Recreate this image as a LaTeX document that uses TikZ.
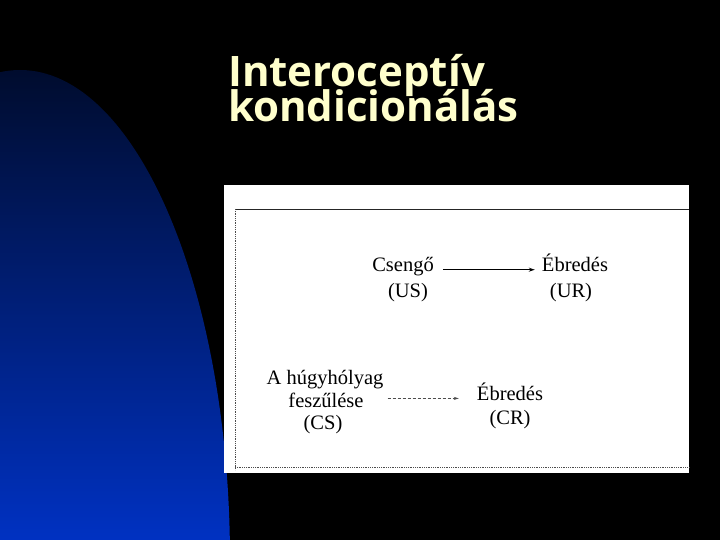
\documentclass[tikz,border=0pt]{standalone}
\usepackage{fontspec}
\setmainfont{Liberation Serif}
\newfontfamily\titlefont{Open Sans}
\usetikzlibrary{arrows.meta}
\definecolor{titlecream}{HTML}{FFFFCC}
\definecolor{navytop}{HTML}{000C2E}
\definecolor{bluebottom}{HTML}{0033C8}
\tikzset{
  titletext/.style={anchor=base west, inner sep=0pt, text=titlecream, font=\titlefont\bfseries\fontsize{42}{35}\selectfont},
  word/.style={anchor=base, inner sep=4pt, font=\fontsize{20.5}{24}\selectfont, text=black},
  solidarrow/.style={-{Stealth[length=6pt,width=4pt]}, line width=1.2pt},
  faintarrow/.style={-{Stealth[length=5pt,width=3pt]}, line width=0.6pt, densely dashed, black!70},
  frameline/.style={line width=0.8pt, black!85},
  dotline/.style={line width=0.8pt, black!70, densely dotted}
}
\begin{document}
\begin{tikzpicture}[x=1pt,y=1pt]
\useasboundingbox (0,0) rectangle (720,540);
\fill[black] (0,0) rectangle (720,540);
% blue quarter ellipse
\begin{scope}
\clip (0,0) rectangle (720,540);
\shade[top color=navytop, bottom color=bluebottom] (-190,-20) arc[start angle=180, end angle=0, x radius=210, y radius=490] -- cycle;
\end{scope}
% title
\node[titletext] (t1) at (228,453) {Interoceptív};
\node[titletext] (t2) at (228,418) {kondicionálás};
% white figure
\fill[white] (224,355) rectangle (689,67);
\draw[frameline] (235,331) -- (689,331);
\draw[dotline] (235,331) -- (235,70);
\draw[dotline] (235,73) -- (689,73);
% diagram nodes
\node[word] (us) at (403,268) {Csengő};
\node[word] (usl) at (408,242) {(US)};
\node[word] (ur) at (575,268) {Ébredés};
\node[word] (url) at (571,242) {(UR)};
\node[word] (cs1) at (325,155) {A húgyhólyag};
\node[word] (cs2) at (326,132.3) {feszűlése};
\node[word] (cs3) at (323,110) {(CS)};
\node[word] (cr) at (510,139.3) {Ébredés};
\node[word] (crl) at (510,115) {(CR)};
\draw[solidarrow, shorten <=5pt, shorten >=3pt] (us.mid east) -- (ur.mid west);
\draw[faintarrow, shorten >=14pt] (cs1.east |- cr.mid west) -- (cr.mid west);
\end{tikzpicture}
\end{document}
